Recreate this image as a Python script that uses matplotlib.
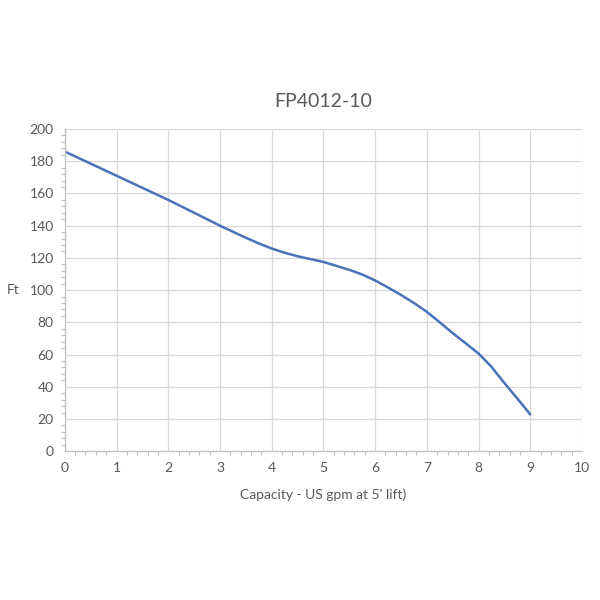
import matplotlib
matplotlib.use('Agg')
import matplotlib.pyplot as plt
from matplotlib.ticker import MultipleLocator

# Pump curve
capacity = [0, 0.5, 1, 1.5, 2, 2.5, 3, 3.5, 3.75, 4, 4.25, 4.5, 5, 5.5, 5.75,
            6, 6.25, 6.5, 6.75, 7, 7.25, 7.5, 7.75, 8, 8.25, 8.5, 8.75, 9]
head_ft = [186, 178.5, 171, 163.5, 156, 148, 140, 132.5, 129, 125.8, 123.2, 121,
           117.5, 112.6, 109.7, 106, 101.6, 97, 92, 86.5, 80, 73.3, 67, 60.6,
           52.4, 42.3, 32.7, 22.8]

plt.rcParams['font.family'] = ['Lato', 'DejaVu Sans']
text_color = '#595959'
grid_color = '#d9d9d9'

fig = plt.figure(figsize=(6, 6), dpi=100)
ax = fig.add_axes([0.108, 0.248, 0.862, 0.537])

ax.plot(capacity, head_ft, color='#4a72b8', linewidth=1.8,
        solid_capstyle='round', solid_joinstyle='round')

ax.set_xlim(0, 10)
ax.set_ylim(0, 200)
ax.xaxis.set_major_locator(MultipleLocator(1))
ax.yaxis.set_major_locator(MultipleLocator(20))
ax.xaxis.set_minor_locator(MultipleLocator(0.2))
ax.yaxis.set_minor_locator(MultipleLocator(4))
ax.grid(True, which='major', color=grid_color, linewidth=0.9)
ax.set_axisbelow(True)

for side in ['top', 'right']:
    ax.spines[side].set_visible(False)
for side in ['left', 'bottom']:
    ax.spines[side].set_color('#bfbfbf')
    ax.spines[side].set_linewidth(0.9)

ax.tick_params(which='major', length=0, pad=8, labelsize=10, labelcolor=text_color)
ax.tick_params(which='minor', length=3, width=0.8, color='#bfbfbf', direction='out')

ax.set_title('FP4012-10', fontsize=14, color=text_color, pad=16)
ax.set_xlabel("Capacity - US gpm at 5' lift)", fontsize=10, color=text_color, labelpad=10)
ax.set_ylabel('Ft', fontsize=10, color=text_color, rotation=0, labelpad=12, va='center')

fig.savefig('out.png', dpi=100, facecolor='white')
